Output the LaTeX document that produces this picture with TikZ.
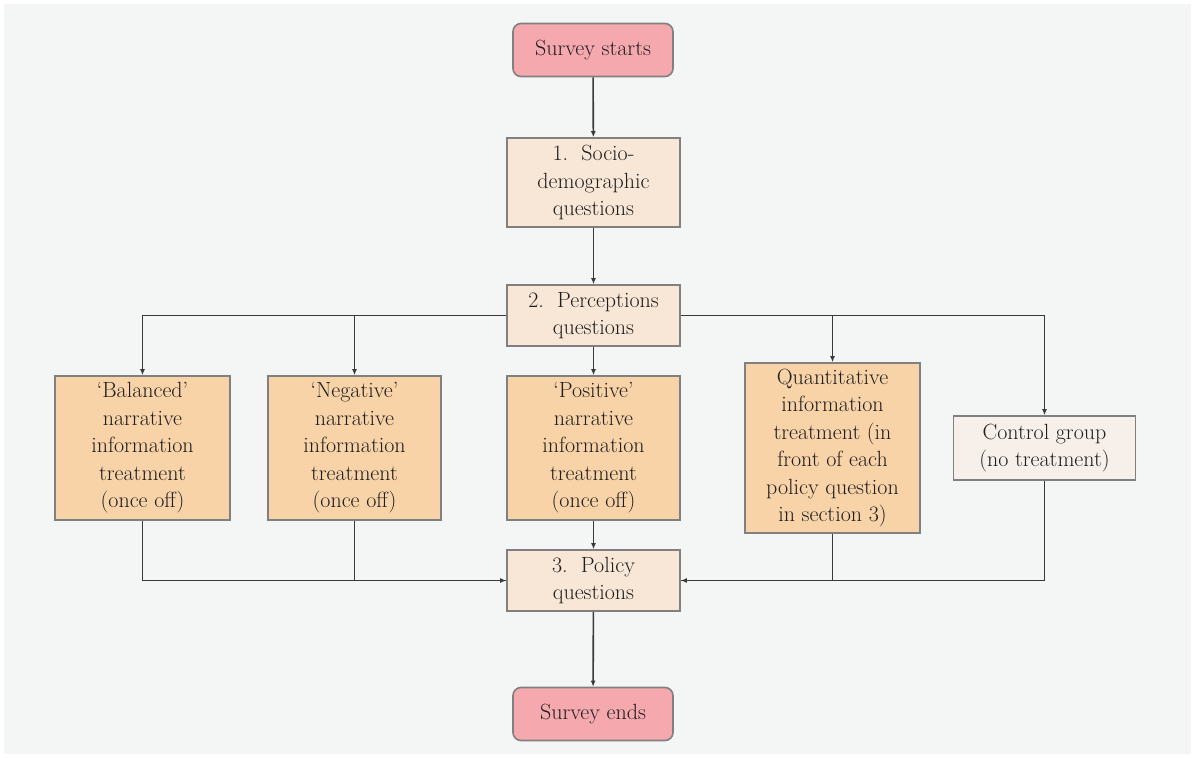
\documentclass[tikz,border=0pt]{standalone}
\usepackage{fontspec}
\usetikzlibrary{arrows.meta}
\definecolor{bgcol}{HTML}{F4F5F5}
\definecolor{pinkcol}{HTML}{F5A9AE}
\definecolor{beigecol}{HTML}{F8E7D6}
\definecolor{orangecol}{HTML}{F8D3A8}
\definecolor{ctrlcol}{HTML}{F7F0EA}
\definecolor{edgecol}{HTML}{808080}
\definecolor{linecol}{HTML}{3A3A3A}
\definecolor{textcol}{HTML}{1E1E1E}
\begin{document}
\begin{tikzpicture}[x=1pt,y=-1pt,
  box/.style={draw=edgecol,line width=1.6pt,inner sep=0pt,align=center,
    text=textcol,font=\fontsize{22}{27.5}\selectfont},
  endbox/.style={box,fill=pinkcol,rounded corners=8pt,minimum width=160pt,minimum height=53pt},
  stagebox/.style={box,fill=beigecol,minimum width=173pt},
  treatbox/.style={box,fill=orangecol},
  ctrlbox/.style={box,fill=ctrlcol},
  conn/.style={draw=linecol,line width=1.6pt},
  arr/.style={conn,-{Latex[length=6pt,width=5pt]}}
]
\fill[white] (0,0) rectangle (1195,758);
\fill[bgcol] (4,4) rectangle (1191,754);
\useasboundingbox (0,0) rectangle (1195,758);

\node[endbox] (start) at (593,50) {Survey starts};
\node[stagebox,minimum height=89pt] (socio) at (593.5,182.5) {1.~~Socio-\\demographic\\questions};
\node[stagebox,minimum height=61pt] (perc) at (593.5,315.5) {2.~~Perceptions\\questions};
\node[treatbox,minimum width=175pt,minimum height=144pt] (bal) at (142.5,448) {`Balanced'\\narrative\\information\\treatment\\(once off)};
\node[treatbox,minimum width=173pt,minimum height=144pt] (neg) at (354.5,448) {`Negative'\\narrative\\information\\treatment\\(once off)};
\node[treatbox,minimum width=173pt,minimum height=144pt] (pos) at (593.5,448) {`Positive'\\narrative\\information\\treatment\\(once off)};
\node[treatbox,minimum width=175pt,minimum height=170pt] (quant) at (832.5,448) {Quantitative\\information\\treatment (in\\front of each\\policy question\\in section 3)};
\node[ctrlbox,minimum width=182pt,minimum height=64pt] (ctrl) at (1044.5,448) {Control group\\(no treatment)};
\node[stagebox,minimum height=61pt] (pol) at (593.5,580.5) {3.~~Policy\\questions};
\node[endbox] (end) at (593,714) {Survey ends};

\draw[arr] (start) -- (socio);
\draw[arr] (socio) -- (perc);
\draw[arr] (perc) -- (pos);
\draw[arr] (pos) -- (pol);
\draw[arr] (pol) -- (end);

\draw[arr] (perc.west) -| (bal.north);
\draw[arr] (perc.west) -| (neg.north);
\draw[arr] (perc.east) -| (quant.north);
\draw[arr] (perc.east) -| (ctrl.north);

\draw[arr] (bal.south) |- (pol.west);
\draw[conn] (neg.south) |- (pol.west);
\draw[arr] (ctrl.south) |- (pol.east);
\draw[conn] (quant.south) |- (pol.east);
\end{tikzpicture}
\end{document}
